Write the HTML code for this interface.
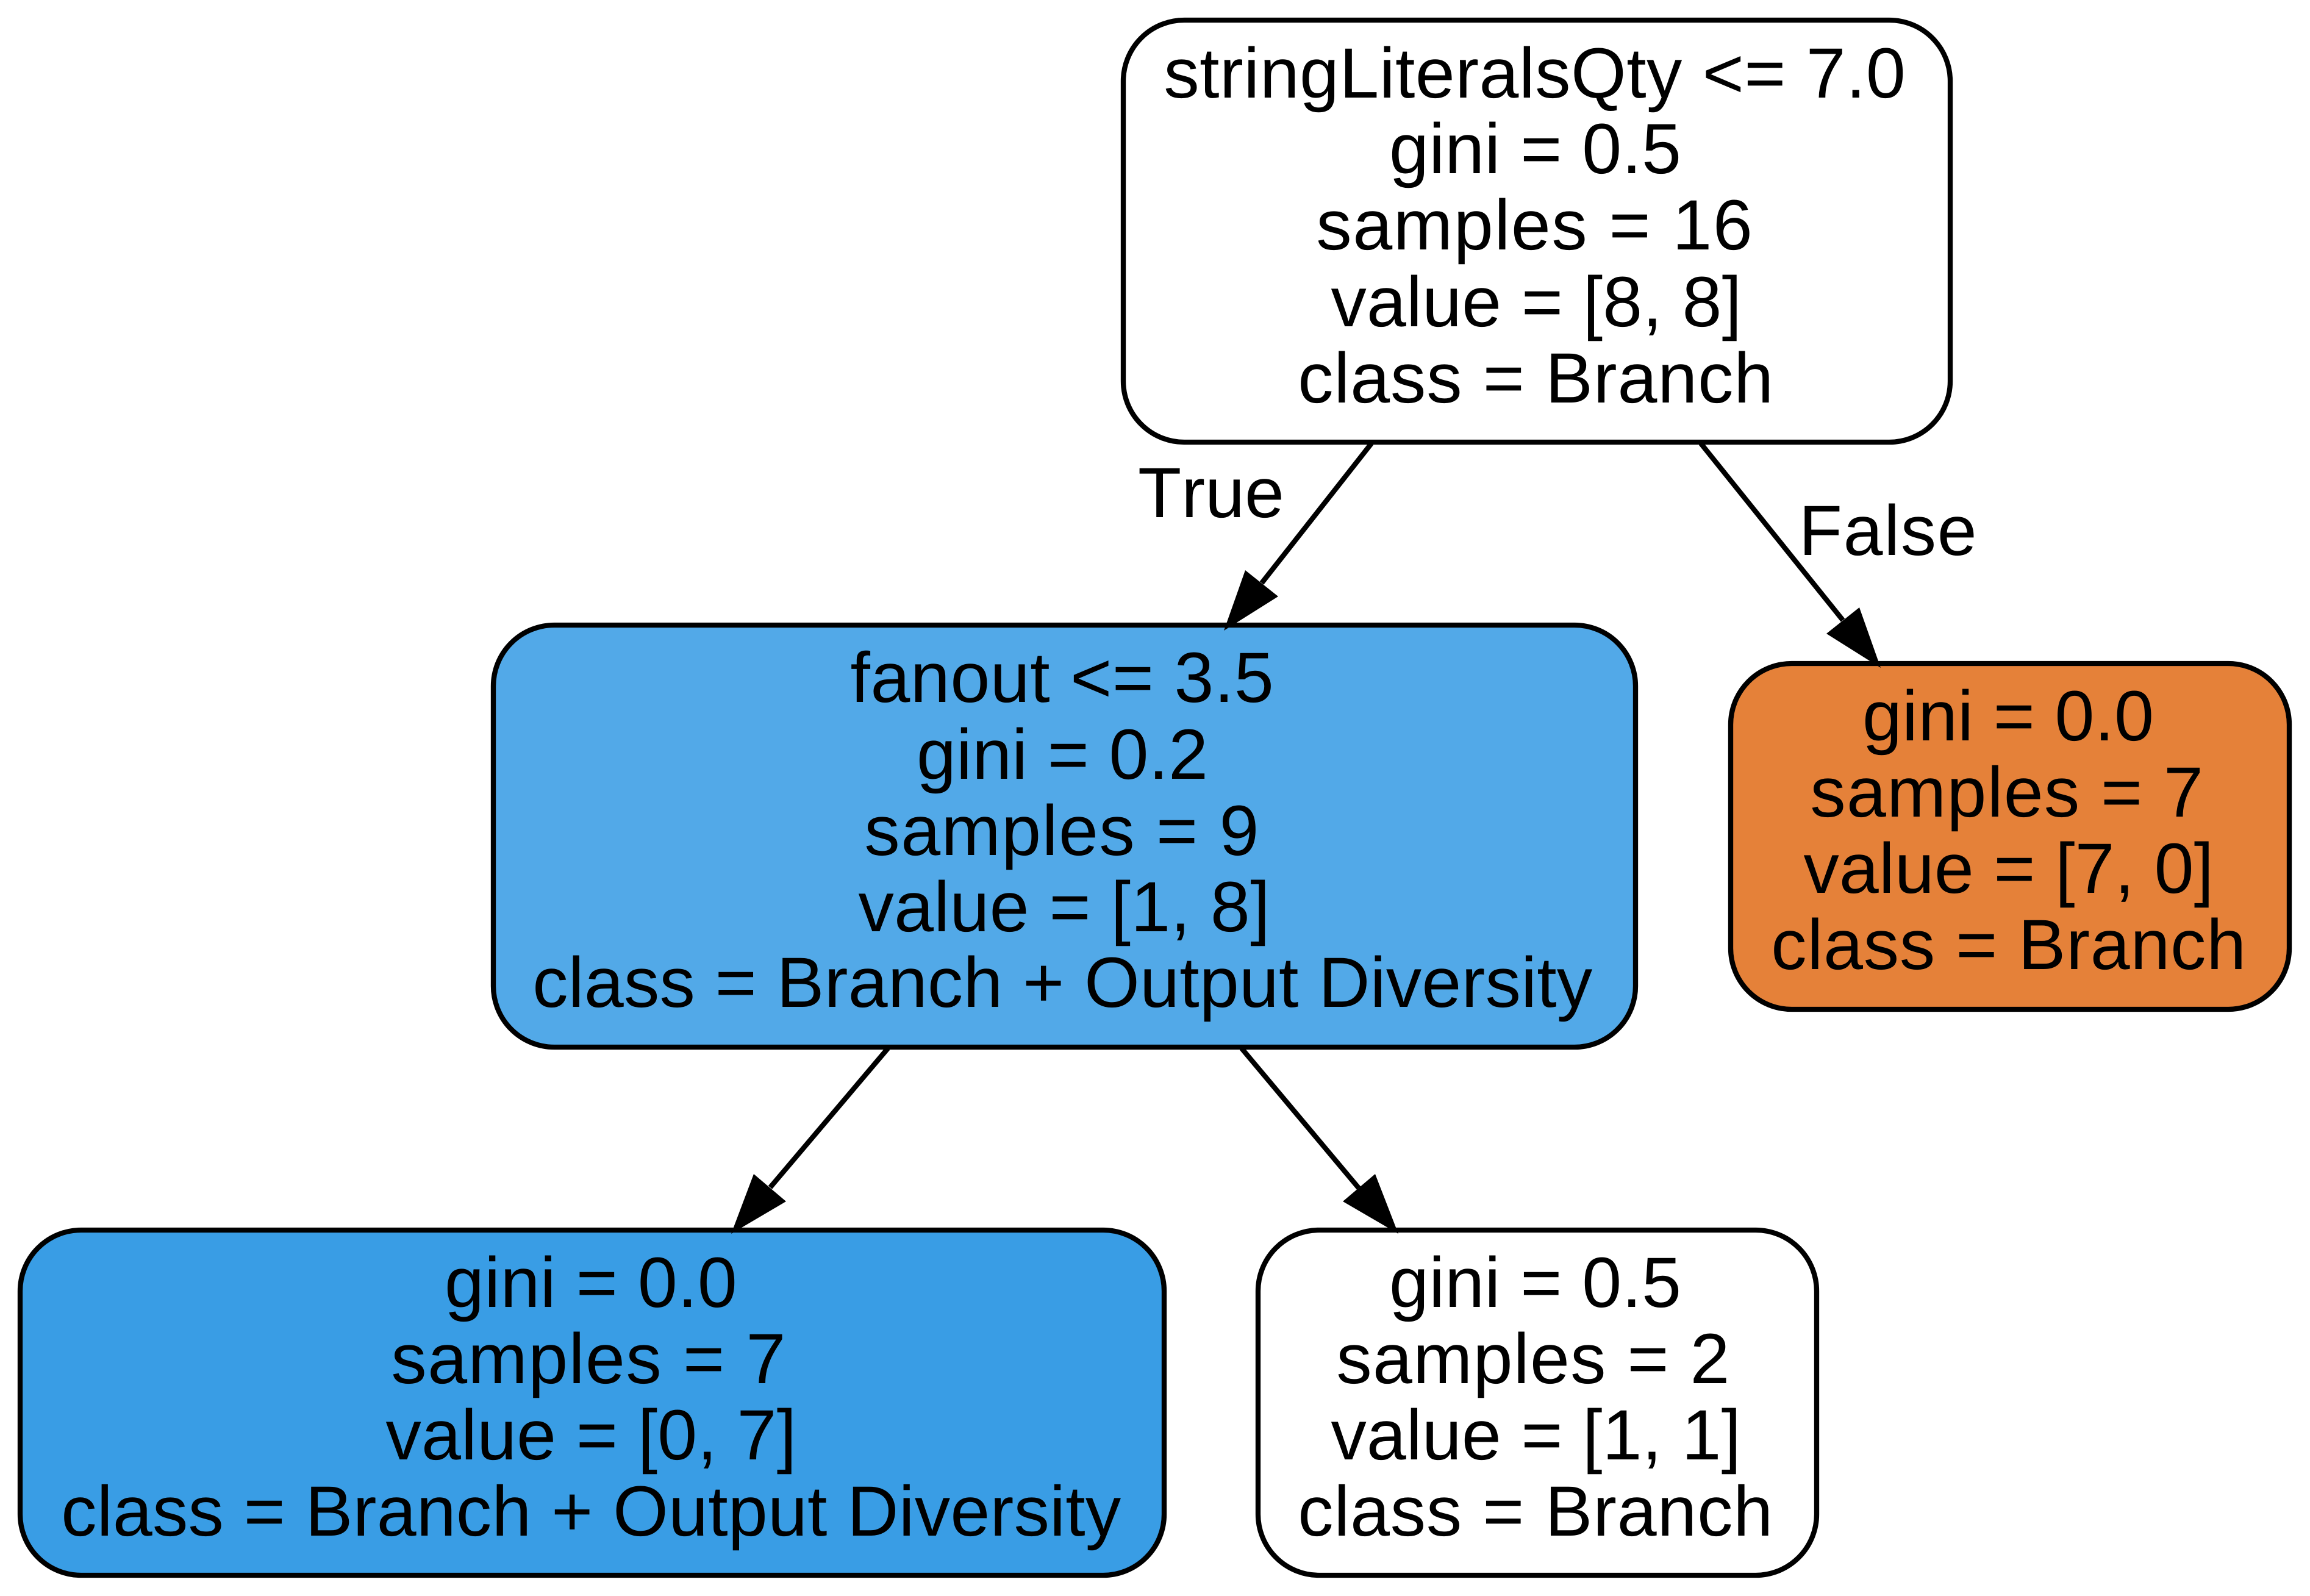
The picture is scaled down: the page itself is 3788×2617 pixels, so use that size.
<!DOCTYPE html>
<html lang="en">
<head>
<meta charset="utf-8">
<title>Decision tree</title>
<style>
html,body{margin:0;padding:0;background:#fff;}
svg{display:block;}
text{font-family:"Liberation Sans",Arial,Helvetica,sans-serif;font-size:116.67px;fill:#000;font-kerning:none;text-rendering:geometricPrecision;}
.box{stroke:#000;stroke-width:8.33;}
.edge{stroke:#000;stroke-width:8.33;fill:none;}
.head{fill:#000;stroke:none;}
</style>
</head>
<body>
<svg xmlns="http://www.w3.org/2000/svg" width="3788" height="2617" viewBox="0 0 3788 2617">
<rect x="0" y="0" width="3788" height="2617" fill="#fff"/>

<g>
<rect class="box" x="1842" y="33" width="1356" height="692" rx="100" ry="100" fill="#ffffff"/>
<text x="1908.4" y="160" textLength="1216.4" lengthAdjust="spacing">stringLiteralsQty &lt;= 7.0</text>
<text x="2278" y="284" textLength="479" lengthAdjust="spacing">gini = 0.5</text>
<text x="2158.4" y="409" textLength="715.4" lengthAdjust="spacing">samples = 16</text>
<text x="2182.5" y="535" textLength="673.5" lengthAdjust="spacing">value = [8, 8]</text>
<text x="2128.2" y="660" textLength="780" lengthAdjust="spacing">class = Branch</text>
</g>

<g>
<rect class="box" x="809" y="1025" width="1873" height="692" rx="100" ry="100" fill="#52a9e8"/>
<text x="1394.5" y="1151" textLength="694.3" lengthAdjust="spacing">fanout &lt;= 3.5</text>
<text x="1503" y="1277" textLength="478" lengthAdjust="spacing">gini = 0.2</text>
<text x="1417.4" y="1402" textLength="647" lengthAdjust="spacing">samples = 9</text>
<text x="1407.5" y="1527" textLength="675" lengthAdjust="spacing">value = [1, 8]</text>
<text x="873.2" y="1651" textLength="1738" lengthAdjust="spacing">class = Branch + Output Diversity</text>
</g>

<g>
<rect class="box" x="2838" y="1088" width="916" height="567" rx="100" ry="100" fill="#e58139"/>
<text x="3054" y="1214" textLength="478" lengthAdjust="spacing">gini = 0.0</text>
<text x="2968.4" y="1339" textLength="644.5" lengthAdjust="spacing">samples = 7</text>
<text x="2957.5" y="1464" textLength="672.5" lengthAdjust="spacing">value = [7, 0]</text>
<text x="2904.2" y="1589" textLength="779" lengthAdjust="spacing">class = Branch</text>
</g>

<g>
<rect class="box" x="33" y="2017" width="1876" height="566" rx="100" ry="100" fill="#399de5"/>
<text x="729" y="2143" textLength="479.8" lengthAdjust="spacing">gini = 0.0</text>
<text x="641.4" y="2268" textLength="647" lengthAdjust="spacing">samples = 7</text>
<text x="632.5" y="2393" textLength="673.5" lengthAdjust="spacing">value = [0, 7]</text>
<text x="100.2" y="2518" textLength="1738" lengthAdjust="spacing">class = Branch + Output Diversity</text>
</g>

<g>
<rect class="box" x="2063" y="2017" width="916" height="566" rx="100" ry="100" fill="#ffffff"/>
<text x="2278" y="2143" textLength="479" lengthAdjust="spacing">gini = 0.5</text>
<text x="2191.4" y="2268" textLength="645" lengthAdjust="spacing">samples = 2</text>
<text x="2182.5" y="2393" textLength="672.5" lengthAdjust="spacing">value = [1, 1]</text>
<text x="2128.2" y="2518" textLength="779" lengthAdjust="spacing">class = Branch</text>
</g>

<g>
<line class="edge" x1="2249" y1="727" x2="2069" y2="956"/>
<polygon class="head" points="2042,935 2096,978 2007,1034"/>
</g>
<g>
<line class="edge" x1="2789" y1="727" x2="3022" y2="1017"/>
<polygon class="head" points="3049,996 2995,1039 3084,1095"/>
</g>
<g>
<line class="edge" x1="1456" y1="1719" x2="1263" y2="1947"/>
<polygon class="head" points="1236,1925 1289,1970 1199,2023"/>
</g>
<g>
<line class="edge" x1="2036" y1="1719" x2="2228" y2="1948"/>
<polygon class="head" points="2255,1925 2202,1970 2293,2023"/>
</g>

<text x="1866" y="848">True</text>
<text x="2949.7" y="910" textLength="292" lengthAdjust="spacing">False</text>
</svg>
</body>
</html>
